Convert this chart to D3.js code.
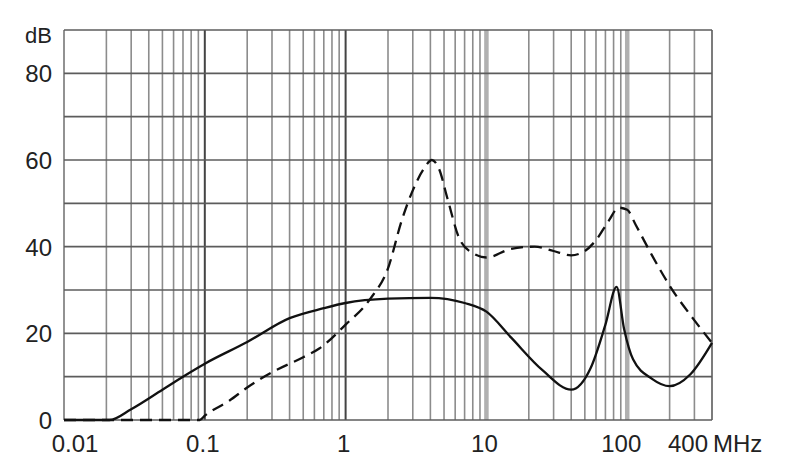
<!DOCTYPE html>
<html><head><meta charset="utf-8">
<script src="https://cdn.jsdelivr.net/npm/d3@7"></script>
<style>body{margin:0;background:#fff}svg{display:block}text{font-family:"Liberation Sans",Arial,sans-serif;fill:#222}</style>
</head><body>
<script>
const yTicks = [0, 20, 40, 60, 80];
const xTickLabels = ["0.01", "0.1", "1", "10", "100", "400"];
const xTickValues = [0.01, 0.1, 1, 10, 100, 400];
const solidFreq = [0.01,0.021,0.03,0.05,0.07,0.1,0.2,0.4,0.7,1,2,4,7,10,15,25,40,55,70,84,95,110,150,200,280,400];
const solidDb   = [0,0,2.5,7,10,13,18,23.5,25.8,27,28,28.2,27,25,19,11.5,7,12,22,30.7,21,14,9.5,7.8,10.5,17.8];
const dashFreq = [0.01,0.092,0.1,0.15,0.2,0.3,0.5,0.65,1,1.5,2,2.5,3,3.6,4.1,4.6,5.3,6.4,8,10,15,22,30,40,50,60,74,87,100,115,150,200,300,400];
const dashDb   = [0,0,1,4.5,7.5,11,14.5,16.5,22,28,35,46,53,58,60,58,51,42,38.5,37.5,39.5,40,39,38,39,41.5,46,49,48.5,45,38,31,23,17.8];

const W = 790, H = 463;
const svg = d3.select("body").append("svg").attr("width", W).attr("height", H);
const x = d3.scaleLog().domain([0.01, 400]).range([64, 712]);
const y = d3.scaleLinear().domain([0, 90]).range([420, 30]);

// vertical grid
const minor = [];
for (let d = 0.01; d < 400; d *= 10) {
  for (let k = 1; k < 10; k++) { const v = d * k; if (v <= 400) minor.push(v); }
}
minor.push(400);
const g = svg.append("g");
minor.forEach(v => {
  const lg = Math.log10(v), isMajor = Math.abs(lg - Math.round(lg)) < 1e-9;
  let col = "#8c8c8c", sw = 1.6;
  if (isMajor && (Math.round(lg) === -1 || Math.round(lg) === 0)) { col = "#444"; sw = 2; }
  if (isMajor && (Math.round(lg) === 1 || Math.round(lg) === 2)) { col = "#b0b0b0"; sw = 4.5; }
  if (v === 0.01 || v === 400) { col = "#777"; sw = 1.6; }
  g.append("line").attr("x1", x(v)).attr("x2", x(v)).attr("y1", y(90)).attr("y2", y(0))
    .attr("stroke", col).attr("stroke-width", sw);
});
// horizontal grid
d3.range(0, 91, 10).forEach(v => {
  g.append("line").attr("x1", x(0.01)).attr("x2", x(400)).attr("y1", y(v)).attr("y2", y(v))
    .attr("stroke", "#5c5c5c").attr("stroke-width", 1.7);
});

// y labels
yTicks.forEach(v => {
  svg.append("text").attr("x", 52).attr("y", y(v) + 9).attr("text-anchor", "end")
    .attr("font-size", 24).text(v);
});
svg.append("text").attr("x", 52).attr("y", 43).attr("text-anchor", "end").attr("font-size", 22).text("dB");

// x labels
const xOff = {"0.01": 11, "0.1": -2, "1": -2, "10": -2, "100": -6, "400": -24};
xTickValues.forEach((v, i) => {
  svg.append("text").attr("x", x(v) + xOff[xTickLabels[i]]).attr("y", 452).attr("text-anchor", "middle")
    .attr("font-size", 24).text(xTickLabels[i]);
});
svg.append("text").attr("x", 713).attr("y", 452).attr("font-size", 24).text("MHz");

const line = d3.line().x(d => x(d[0])).y(d => y(d[1])).curve(d3.curveMonotoneX);
svg.append("path").datum(solidFreq.map((f, i) => [f, solidDb[i]]))
  .attr("d", line).attr("fill", "none").attr("stroke", "#111").attr("stroke-width", 2.3);
svg.append("path").datum(dashFreq.map((f, i) => [f, dashDb[i]]))
  .attr("d", line).attr("fill", "none").attr("stroke", "#111").attr("stroke-width", 2.3)
  .attr("stroke-dasharray", "12,7");
</script>
</body></html>
